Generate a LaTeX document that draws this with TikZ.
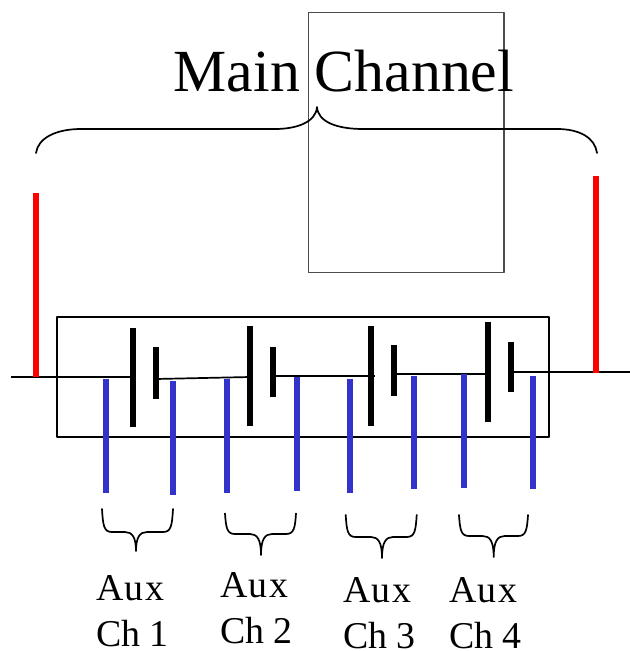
\documentclass[tikz,border=0pt]{standalone}
\usepackage{fontspec}
\setmainfont{Liberation Serif}
\definecolor{leadblue}{RGB}{51,51,204}
\tikzset{
	wire/.style={line width=1.7bp},
	cell/.style={line width=6bp},
	lead/.style={line width=6bp,color=leadblue},
	probe/.style={line width=6bp,color=red},
	curly/.style={line width=1.7bp,line cap=round},
	auxlabel/.style={anchor=base west,inner sep=0pt,align=left,text depth=0pt,font=\fontsize{38}{46}\selectfont}
}
\begin{document}
\begin{tikzpicture}[x=1bp,y=-1bp, line join=round]
	\useasboundingbox (0,0) rectangle (630,651);
	% frames
	\draw[line width=1.2bp,color=black!70] (308.5,12.5) rectangle (504,272.5);
	\draw[line width=1.9bp] (57,317) rectangle (549,437);
	\node[anchor=base west,inner sep=0pt,font=\fontsize{60}{60}\selectfont] (main) at (173.5,92) {Main Channel};
	% main brace
	\draw[curly] (36,153) .. controls (38,138) and (56,129) .. (81,129) -- (275,129)
		.. controls (297,129) and (316,122) .. (317,107)
		.. controls (318,122) and (337,129) .. (363,129) -- (557,129)
		.. controls (580,129) and (595,138) .. (597,153);
	% wires
	\draw[wire] (11,377)--(133,377);
	\draw[wire] (156,379)--(250,377);
	\draw[wire] (273,375.7)--(375,375.7);
	\draw[wire] (394,374)--(488,374);
	\draw[wire] (511,372)--(630,372);
	% cells
	\foreach \xa/\ya/\yb/\xc/\yc/\yd in {133/328/427/155.5/347/399, 250/326/426/272.7/347/397, 371/326/426/393.7/345/396, 488/322/422/511/342/392}
		\draw[cell] (\xa,\ya)--(\xa,\yb) (\xc,\yc)--(\xc,\yd);
	% leads
	\foreach \xa/\ya/\yb in {106/379/493, 172.5/381/495, 227/379/493, 297/377/491, 350/379/493, 414/376/489, 463.7/374/488, 533/376/489}
		\draw[lead] (\xa,\ya)--(\xa,\yb);
	\draw[probe] (36,193)--(36,377);
	\draw[probe] (596,176)--(596,373);
	% small braces
	\foreach \xa/\xm/\xb/\yt/\yf/\yp in {102/136/173/509/532/551, 225/261/296/513.5/534/555, 345.7/382/416.7/515/537/558, 459/493.7/528/515/536/557}
		\draw[curly] (\xa,\yt) .. controls (\xa+1,\yf-6) and (\xa+2,\yf) .. (\xa+10,\yf) -- (\xm-11,\yf)
			.. controls (\xm-4,\yf) and (\xm,\yf+5) .. (\xm,\yp)
			.. controls (\xm,\yf+5) and (\xm+4,\yf) .. (\xm+11,\yf) -- (\xb-10,\yf)
			.. controls (\xb-2,\yf) and (\xb-1,\yf-6) .. (\xb,\yt);
	% labels
	\node[auxlabel] (aux1) at (96,646) {A\kern1pt u\kern2pt x\\Ch 1};
	\node[auxlabel] (aux2) at (220,643) {A\kern1pt u\kern2pt x\\Ch 2};
	\node[auxlabel] (aux3) at (343,648) {A\kern1pt u\kern2pt x\\Ch 3};
	\node[auxlabel] (aux4) at (449,648) {A\kern1pt u\kern2pt x\\Ch 4};
\end{tikzpicture}
\end{document}
